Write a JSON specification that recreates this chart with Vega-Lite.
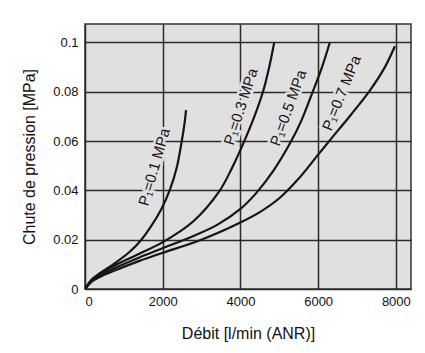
{
  "$schema": "https://vega.github.io/schema/vega-lite/v6.json",
  "width": 326,
  "height": 265,
  "autosize": "none",
  "padding": {"left": 85, "top": 24, "right": 14, "bottom": 64},
  "background": "white",
  "config": {
    "view": {"fill": "#e0e0e0", "stroke": "#333333", "strokeWidth": 1.5},
    "font": "Liberation Sans",
    "axis": {"labelFont": "Liberation Sans", "titleFont": "Liberation Sans", "labelColor": "#111111", "titleColor": "#111111", "titleFontWeight": "normal"}
  },
  "datasets": {
    "curves": [
      {"p1": "0.1", "flow": 0, "dp": 0},
      {"p1": "0.1", "flow": 160, "dp": 0.0037},
      {"p1": "0.1", "flow": 380, "dp": 0.0064},
      {"p1": "0.1", "flow": 800, "dp": 0.0108},
      {"p1": "0.1", "flow": 1160, "dp": 0.0152},
      {"p1": "0.1", "flow": 1440, "dp": 0.0198},
      {"p1": "0.1", "flow": 1690, "dp": 0.0252},
      {"p1": "0.1", "flow": 1970, "dp": 0.0326},
      {"p1": "0.1", "flow": 2190, "dp": 0.0405},
      {"p1": "0.1", "flow": 2360, "dp": 0.0492},
      {"p1": "0.1", "flow": 2490, "dp": 0.06},
      {"p1": "0.1", "flow": 2560, "dp": 0.067},
      {"p1": "0.1", "flow": 2600, "dp": 0.0726},
      {"p1": "0.3", "flow": 0, "dp": 0},
      {"p1": "0.3", "flow": 160, "dp": 0.0033},
      {"p1": "0.3", "flow": 400, "dp": 0.0062},
      {"p1": "0.3", "flow": 800, "dp": 0.0098},
      {"p1": "0.3", "flow": 1400, "dp": 0.0143},
      {"p1": "0.3", "flow": 1980, "dp": 0.0188},
      {"p1": "0.3", "flow": 2790, "dp": 0.0275},
      {"p1": "0.3", "flow": 3450, "dp": 0.0395},
      {"p1": "0.3", "flow": 3780, "dp": 0.049},
      {"p1": "0.3", "flow": 4100, "dp": 0.06},
      {"p1": "0.3", "flow": 4360, "dp": 0.07},
      {"p1": "0.3", "flow": 4580, "dp": 0.08},
      {"p1": "0.3", "flow": 4740, "dp": 0.09},
      {"p1": "0.3", "flow": 4870, "dp": 0.1},
      {"p1": "0.5", "flow": 0, "dp": 0},
      {"p1": "0.5", "flow": 160, "dp": 0.003},
      {"p1": "0.5", "flow": 400, "dp": 0.0055},
      {"p1": "0.5", "flow": 800, "dp": 0.0087},
      {"p1": "0.5", "flow": 1400, "dp": 0.0128},
      {"p1": "0.5", "flow": 1980, "dp": 0.0164},
      {"p1": "0.5", "flow": 2790, "dp": 0.0215},
      {"p1": "0.5", "flow": 3400, "dp": 0.026},
      {"p1": "0.5", "flow": 4000, "dp": 0.0325},
      {"p1": "0.5", "flow": 4400, "dp": 0.0388},
      {"p1": "0.5", "flow": 4850, "dp": 0.048},
      {"p1": "0.5", "flow": 5290, "dp": 0.0595},
      {"p1": "0.5", "flow": 5560, "dp": 0.068},
      {"p1": "0.5", "flow": 5860, "dp": 0.08},
      {"p1": "0.5", "flow": 6100, "dp": 0.09},
      {"p1": "0.5", "flow": 6300, "dp": 0.1},
      {"p1": "0.7", "flow": 0, "dp": 0},
      {"p1": "0.7", "flow": 160, "dp": 0.0028},
      {"p1": "0.7", "flow": 400, "dp": 0.005},
      {"p1": "0.7", "flow": 800, "dp": 0.0077},
      {"p1": "0.7", "flow": 1400, "dp": 0.0114},
      {"p1": "0.7", "flow": 1980, "dp": 0.0146},
      {"p1": "0.7", "flow": 2960, "dp": 0.0198},
      {"p1": "0.7", "flow": 4000, "dp": 0.027},
      {"p1": "0.7", "flow": 4500, "dp": 0.0312},
      {"p1": "0.7", "flow": 5000, "dp": 0.0368},
      {"p1": "0.7", "flow": 5500, "dp": 0.0448},
      {"p1": "0.7", "flow": 6000, "dp": 0.0545},
      {"p1": "0.7", "flow": 6300, "dp": 0.0603},
      {"p1": "0.7", "flow": 6850, "dp": 0.0708},
      {"p1": "0.7", "flow": 7330, "dp": 0.0805},
      {"p1": "0.7", "flow": 7700, "dp": 0.0895},
      {"p1": "0.7", "flow": 7975, "dp": 0.0985}
    ],
    "labels": [
      {"p1": "0.1", "flow": 1780, "dp": 0.0495, "label": "P₁=0.1 MPa"},
      {"p1": "0.3", "flow": 4010, "dp": 0.074, "label": "P₁=0.3 MPa"},
      {"p1": "0.5", "flow": 5230, "dp": 0.0735, "label": "P₁=0.5 MPa"},
      {"p1": "0.7", "flow": 6600, "dp": 0.0795, "label": "P₁=0.7 MPa"}
    ]
  },
  "encoding": {
    "x": {
      "field": "flow", "type": "quantitative",
      "scale": {"domain": [0, 8390], "nice": false, "zero": false},
      "axis": {
        "values": [0, 2000, 4000, 6000, 8000], "format": "d",
        "grid": true, "gridColor": "#2a2a2a", "gridWidth": 1.5, "gridOpacity": 1,
        "ticks": false, "domain": false,
        "labelFontSize": 13, "labelPadding": 6,
        "title": "Débit [l/min (ANR)]", "titleFontSize": 16, "titlePadding": 17
      }
    },
    "y": {
      "field": "dp", "type": "quantitative",
      "scale": {"domain": [0, 0.1075], "nice": false, "zero": false},
      "axis": {
        "values": [0, 0.02, 0.04, 0.06, 0.08, 0.1], "format": "~g",
        "grid": true, "gridColor": "#2a2a2a", "gridWidth": 1.5, "gridOpacity": 1,
        "ticks": false, "domain": false,
        "labelFontSize": 13, "labelPadding": 7,
        "title": "Chute de pression [MPa]", "titleFontSize": 16, "titlePadding": 15
      }
    }
  },
  "layer": [
    {
      "data": {"name": "curves"},
      "mark": {"type": "line", "interpolate": "catmull-rom", "color": "#151515", "strokeWidth": 2.2, "clip": true},
      "encoding": {"detail": {"field": "p1", "type": "nominal"}}
    },
    {
      "data": {"name": "labels"},
      "mark": {"type": "text", "fontSize": 15, "stroke": "#e0e0e0", "strokeWidth": 5, "fill": "#e0e0e0", "align": "center", "baseline": "middle"},
      "encoding": {
        "text": {"field": "label", "type": "nominal"},
        "angle": {"field": "p1", "type": "nominal", "scale": {"domain": ["0.1", "0.3", "0.5", "0.7"], "range": [-74, -68, -64, -50]}, "legend": null}
      }
    },
    {
      "data": {"name": "labels"},
      "mark": {"type": "text", "fontSize": 15, "fill": "#151515", "align": "center", "baseline": "middle"},
      "encoding": {
        "text": {"field": "label", "type": "nominal"},
        "angle": {"field": "p1", "type": "nominal", "scale": {"domain": ["0.1", "0.3", "0.5", "0.7"], "range": [-74, -68, -64, -50]}, "legend": null}
      }
    }
  ]
}
